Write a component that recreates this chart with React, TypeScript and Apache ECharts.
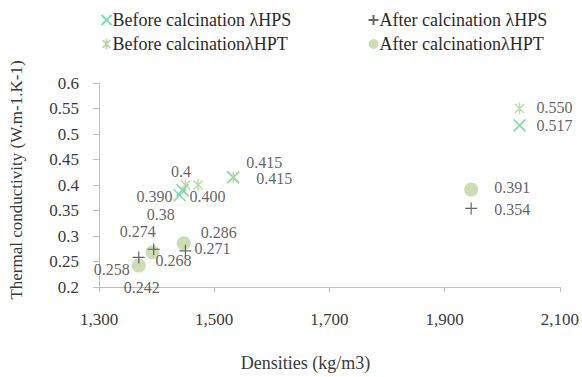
import React, { useEffect, useRef } from "react";
import * as echarts from "echarts";

// ---- data ----
const beforeHPS_x = [1440, 1445, 1533, 2030];
const beforeHPS_y = [0.38, 0.39, 0.415, 0.517];
const beforeHPS_labels = ["0.38", "0.390", "0.415", "0.517"];

const beforeHPT_x = [1450, 1472, 1533, 2030];
const beforeHPT_y = [0.4, 0.4, 0.415, 0.55];
const beforeHPT_labels = ["0.400", "0.4", "0.415", "0.550"];

const afterHPS_x = [1369, 1395, 1450, 1946];
const afterHPS_y = [0.258, 0.274, 0.271, 0.354];
const afterHPS_labels = ["0.258", "0.274", "0.271", "0.354"];

const afterHPT_x = [1369, 1393, 1447, 1946];
const afterHPT_y = [0.242, 0.268, 0.286, 0.391];
const afterHPT_labels = ["0.242", "0.268", "0.286", "0.391"];

const seriesNames = [
  "Before calcination λHPS",
  "After calcination λHPS",
  "Before calcinationλHPT",
  "After calcinationλHPT",
];

// label placement (style only)
const offBeforeHPS = [[-19, 19], [-28, 6], [31, -15], [35, 0]];
const offBeforeHPT = [[22, 11], [-17, -14], [41, 1], [35, -1]];
const offAfterHPS = [[-27, 12], [-16, -18], [27, -2], [41, 1]];
const offAfterHPT = [[3, 22], [21, 8], [35, -11], [41, -2]];

const SYM_X = "path://M0,0L10,10M10,0L0,10";
const SYM_AST = "path://M0,0L10,10M10,0L0,10M5,-1.5L5,11.5";
const SYM_PLUS = "path://M5,0L5,10M0,5L10,5";

const FONT = "Liberation Serif, serif";
const TXT = "#3a3a3a";

function build(xs: number[], ys: number[], offs: number[][]) {
  return xs.map((x, i) => ({
    value: [x, ys[i]],
    label: { offset: offs[i] },
  }));
}

export default function App() {
  const ref = useRef<HTMLDivElement>(null);
  useEffect(() => {
    if (!ref.current) return;
    const chart = echarts.init(ref.current, undefined, { renderer: "svg" });
    const mkLabel = (texts: string[]) => ({
      show: true,
      position: "inside",
      fontFamily: FONT,
      fontSize: 16,
      color: TXT,
      formatter: (p: any) => texts[p.dataIndex],
    });
    const cMint = "#5ed49a";
    const cAst = "#a9d28e";
    const cCirc = "#c2d6a0";
    const cPlus = "#404040";
    const legendText = { fontFamily: FONT, fontSize: 18, color: "#2b2b2b", padding: [0, 0, 0, -4] };
    chart.setOption({
      animation: false,
      grid: { left: 98, right: 20, top: 83, bottom: 88 },
      legend: [
        {
          orient: "vertical",
          left: 94,
          top: 6,
          itemGap: 6,
          itemWidth: 10,
          itemHeight: 10,
          textStyle: legendText,
          data: [seriesNames[0], seriesNames[2]],
        },
        {
          orient: "vertical",
          left: 361,
          top: 6,
          itemGap: 6,
          itemWidth: 10,
          itemHeight: 10,
          textStyle: legendText,
          data: [seriesNames[1], seriesNames[3]],
        },
      ],
      xAxis: {
        type: "value",
        min: 1300,
        max: 2100,
        interval: 200,
        name: "Densities (kg/m3)",
        nameLocation: "middle",
        nameGap: 67,
        nameTextStyle: { fontFamily: FONT, fontSize: 18, color: TXT, padding: [0, 48, 0, 0] },
        axisLine: { show: true, lineStyle: { color: "#bfbfbf", width: 1 } },
        axisTick: { show: true, length: 5, lineStyle: { color: "#bfbfbf" } },
        splitLine: { show: false },
        axisLabel: {
          margin: 24,
          fontFamily: FONT,
          fontSize: 17,
          color: TXT,
          formatter: (v: number) => v.toLocaleString("en-US"),
        },
      },
      yAxis: {
        type: "value",
        min: 0.2,
        max: 0.6,
        interval: 0.05,
        name: "Thermal conductivity (W.m-1.K-1)",
        nameLocation: "middle",
        nameGap: 74,
        nameTextStyle: { fontFamily: FONT, fontSize: 17, color: TXT, padding: [0, 0, 0, 10] },
        axisLine: { show: true, lineStyle: { color: "#bfbfbf", width: 1 } },
        axisTick: { show: true, length: 6, lineStyle: { color: "#bfbfbf" } },
        splitLine: { show: false },
        axisLabel: {
          margin: 20,
          fontFamily: FONT,
          fontSize: 17,
          color: TXT,
          formatter: (v: number) => String(parseFloat(v.toFixed(2))),
        },
      },
      series: [
        {
          name: seriesNames[0],
          type: "scatter",
          symbol: SYM_X,
          symbolSize: 12,
          itemStyle: { color: "none", borderColor: cMint, borderWidth: 1.6 },
          label: mkLabel(beforeHPS_labels),
          data: build(beforeHPS_x, beforeHPS_y, offBeforeHPS),
          z: 3,
        },
        {
          name: seriesNames[1],
          type: "scatter",
          symbol: SYM_PLUS,
          symbolSize: 12,
          itemStyle: { color: "none", borderColor: cPlus, borderWidth: 1.2 },
          label: mkLabel(afterHPS_labels),
          data: build(afterHPS_x, afterHPS_y, offAfterHPS),
          z: 4,
        },
        {
          name: seriesNames[2],
          type: "scatter",
          symbol: SYM_AST,
          symbolSize: 12,
          symbolKeepAspect: true,
          itemStyle: { color: "none", borderColor: cAst, borderWidth: 1.4 },
          label: mkLabel(beforeHPT_labels),
          data: build(beforeHPT_x, beforeHPT_y, offBeforeHPT),
          z: 3,
        },
        {
          name: seriesNames[3],
          type: "scatter",
          symbol: "circle",
          symbolSize: 14,
          itemStyle: { color: cCirc },
          label: mkLabel(afterHPT_labels),
          data: build(afterHPT_x, afterHPT_y, offAfterHPT),
          z: 2,
        },
      ],
    });
    return () => chart.dispose();
  }, []);
  return <div ref={ref} style={{ width: 582, height: 377, position: "absolute", left: 0, top: 0 }} />;
}
